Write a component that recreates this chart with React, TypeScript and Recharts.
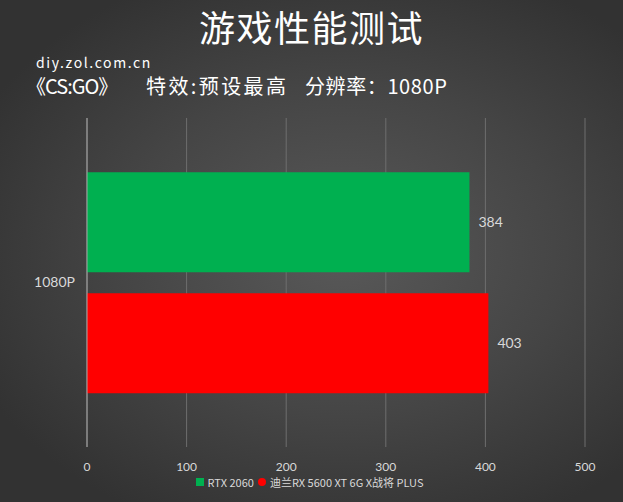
import React from "react";
import { BarChart, Bar, XAxis, YAxis, CartesianGrid, Legend, LabelList } from "recharts";

const categories = ["1080P"];
const rtx2060Values = [384];
const rx5600Values = [403];
const seriesNames = ["RTX 2060", "迪兰RX 5600 XT 6G X战将 PLUS"];
const seriesColors = ["#00b050", "#ff0000"];
const xTicks = [0, 100, 200, 300, 400, 500];
const titleText = "游戏性能测试";
const siteText = "diy.zol.com.cn";
const gameText = "《CS:GO》";
const settingText = "特效:预设最高";
const resText = "分辨率：1080P";

const data = categories.map((c, i) => ({
  name: c,
  rtx: rtx2060Values[i],
  rx: rx5600Values[i],
}));

const cjk = '"Noto Sans CJK SC", "Noto Sans", sans-serif';
const latin = 'Lato, "Noto Sans", sans-serif';

const renderLegend = (props: any) => {
  const { payload } = props;
  return (
    <div style={{ display: "flex", justifyContent: "center", alignItems: "center", fontFamily: cjk, fontSize: 11, color: "#d9d9d9" }}>
      {payload.map((p: any, i: number) => (
        <div key={i} style={{ display: "flex", alignItems: "center", marginRight: 4 }}>
          <span
            style={{
              display: "inline-block",
              width: 8,
              height: 8,
              background: p.color,
              borderRadius: p.type === "circle" ? 4 : 0,
              marginRight: 4,
            }}
          />
          <span>{p.value}</span>
        </div>
      ))}
    </div>
  );
};

const lineStyle: React.CSSProperties = {
  position: "absolute",
  top: 72,
  fontFamily: cjk,
  fontSize: 20,
  color: "#ffffff",
  lineHeight: "28px",
  whiteSpace: "pre",
};

export default function App() {
  return (
    <div
      style={{
        position: "absolute",
        left: 0,
        top: 0,
        width: 623,
        height: 502,
        overflow: "hidden",
        background: "radial-gradient(ellipse 65% 60% at 55% 50%, #595959 0%, #454545 55%, #323232 100%)",
      }}
    >
      <div
        style={{
          position: "absolute",
          left: 0,
          width: 623,
          top: 2,
          textAlign: "center",
          fontFamily: cjk,
          fontSize: 36,
          letterSpacing: 1.5,
          color: "#ffffff",
          lineHeight: "48px",
        }}
      >
        {titleText}
      </div>
      <div
        style={{
          position: "absolute",
          left: 36,
          top: 53,
          fontFamily: cjk,
          fontSize: 14,
          letterSpacing: 1.6,
          color: "#ffffff",
          lineHeight: "18px",
        }}
      >
        {siteText}
      </div>
      <div style={{ ...lineStyle, left: 26, letterSpacing: -1 }}>{gameText}</div>
      <div style={{ ...lineStyle, left: 146, letterSpacing: 2.4 }}>{settingText}</div>
      <div style={{ ...lineStyle, left: 305, letterSpacing: 0.6 }}>{resText}</div>
      <BarChart
        width={623}
        height={502}
        data={data}
        layout="vertical"
        margin={{ top: 118, right: 38, bottom: 0, left: 27 }}
        barCategoryGap="16.5%"
        barGap={21}
      >
        <CartesianGrid horizontal={false} stroke="#6e6e6e" strokeWidth={1} />
        <XAxis
          type="number"
          domain={[0, 500]}
          ticks={xTicks}
          axisLine={false}
          tickLine={false}
          tickSize={0}
          tickMargin={15}
          height={55}
          tick={{ fill: "#d9d9d9", fontSize: 12, fontFamily: latin }}
        />
        <YAxis
          type="category"
          dataKey="name"
          width={60}
          axisLine={{ stroke: "#a6a6a6" }}
          tickLine={false}
          tickSize={0}
          tickMargin={12}
          tick={{ fill: "#d9d9d9", fontSize: 14, fontFamily: latin }}
        />
        <Legend
          verticalAlign="middle"
          align="center"
          layout="horizontal"
          content={renderLegend}
          wrapperStyle={{ top: 474, left: 0, width: 623, height: 18 }}
        />
        <Bar dataKey="rtx" name={seriesNames[0]} fill={seriesColors[0]} legendType="square" isAnimationActive={false}>
          <LabelList dataKey="rtx" position="right" offset={9} fill="#d9d9d9" fontSize={14} fontFamily={latin} />
        </Bar>
        <Bar dataKey="rx" name={seriesNames[1]} fill={seriesColors[1]} legendType="circle" isAnimationActive={false}>
          <LabelList dataKey="rx" position="right" offset={9} fill="#d9d9d9" fontSize={14} fontFamily={latin} />
        </Bar>
      </BarChart>
    </div>
  );
}
